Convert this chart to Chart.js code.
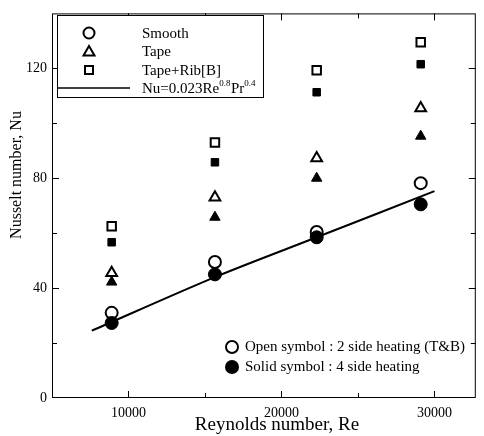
<!DOCTYPE html>
<html>
<head>
<meta charset="utf-8">
<script src="https://cdn.jsdelivr.net/npm/chart.js@4.4.1/dist/chart.umd.min.js"></script>
<style>
  body { margin: 0; background: #fff; }
  canvas { display: block; }
</style>
</head>
<body>
<canvas id="nuChart" width="484" height="436"></canvas>
<script>
// Reynolds numbers of the four test runs
var reValues = [8900, 15650, 22300, 29100];
// Nusselt numbers, open = 2 side heating, solid = 4 side heating
var smoothOpen = [31, 49.5, 60.4, 78.2];
var smoothSolid = [27.3, 45, 58.5, 70.5];
var tapeOpen = [45.5, 73, 87.3, 105.5];
var tapeSolid = [42.2, 65.8, 80, 95.3];
var ribOpen = [62.5, 93, 119.3, 129.5];
var ribSolid = [56.7, 85.8, 111.3, 121.5];
// Dittus-Boelter line
var lineRe = [7600, 15650, 22300, 30000];
var lineNu = [24.5, 44, 58.5, 75.3];
// tick labels
var xTickLabels = [10000, 20000, 30000];
var yTickLabels = [0, 40, 80, 120];

var SERIF = '"Liberation Serif", "DejaVu Serif", serif';

function pts(xs, ys) {
    return xs.map(function (x, i) { return { x: x, y: ys[i] }; });
}

function symbolSet(label, ys, style, solid, r, order) {
    return {
        label: label,
        data: pts(reValues, ys),
        showLine: false,
        pointStyle: style,
        pointRadius: r,
        pointHoverRadius: r,
        pointBorderWidth: solid ? 1 : 2,
        pointBorderColor: '#000',
        pointBackgroundColor: solid ? '#000' : '#fff',
        order: order
    };
}

// inward ticks, frame, titles and the two legend boxes
var decorations = {
    id: 'decorations',
    afterDatasetsDraw: function (chart) {
        var ctx = chart.ctx;
        var a = chart.chartArea;
        var xs = chart.scales.x, ys = chart.scales.y;
        ctx.save();
        ctx.strokeStyle = '#000';
        ctx.lineWidth = 1;
        ctx.strokeRect(a.left + 0.5, a.top + 0.5, a.right - a.left - 1, a.bottom - a.top - 1);

        ctx.beginPath();
        [10000, 15000, 20000, 25000, 30000].forEach(function (v) {
            var px = Math.round(xs.getPixelForValue(v)) + 0.5;
            var len = v % 10000 === 0 ? 7 : 5;
            ctx.moveTo(px, a.bottom); ctx.lineTo(px, a.bottom - len);
            ctx.moveTo(px, a.top); ctx.lineTo(px, a.top + len);
        });
        [20, 40, 60, 80, 100, 120].forEach(function (v) {
            var py = Math.round(ys.getPixelForValue(v)) + 0.5;
            var len = v % 40 === 0 ? 7 : 5;
            ctx.moveTo(a.left, py); ctx.lineTo(a.left + len, py);
            ctx.moveTo(a.right, py); ctx.lineTo(a.right - len, py);
        });
        ctx.stroke();

        // axis titles
        ctx.fillStyle = '#000';
        ctx.textAlign = 'center';
        ctx.textBaseline = 'middle';
        ctx.font = '19px ' + SERIF;
        ctx.fillText('Reynolds number, Re', 277, 425);
        ctx.save();
        ctx.translate(17, 175);
        ctx.rotate(-Math.PI / 2);
        ctx.font = '16px ' + SERIF;
        ctx.fillText('Nusselt number, Nu', 0, 0);
        ctx.restore();

        // upper-left legend
        ctx.fillStyle = '#fff';
        ctx.fillRect(57, 15, 206, 82);
        ctx.strokeRect(57.5, 15.5, 206, 82);
        ctx.lineWidth = 2;
        ctx.fillStyle = '#fff';
        ctx.beginPath(); ctx.arc(89, 33, 5.5, 0, Math.PI * 2); ctx.fill(); ctx.stroke();
        ctx.beginPath();
        ctx.moveTo(89, 46); ctx.lineTo(94.5, 55.5); ctx.lineTo(83.5, 55.5); ctx.closePath();
        ctx.fill(); ctx.stroke();
        ctx.strokeRect(85, 66, 8, 8);
        ctx.lineWidth = 1.4;
        ctx.beginPath(); ctx.moveTo(57, 88); ctx.lineTo(130, 88); ctx.stroke();

        ctx.fillStyle = '#000';
        ctx.textAlign = 'left';
        ctx.textBaseline = 'alphabetic';
        ctx.font = '15px ' + SERIF;
        ctx.fillText('Smooth', 142, 38);
        ctx.fillText('Tape', 142, 56);
        ctx.fillText('Tape+Rib[B]', 142, 75);
        var tx = 142, base = 93;
        var parts = [['Nu=0.023Re', false], ['0.8', true], ['Pr', false], ['0.4', true]];
        parts.forEach(function (p) {
            ctx.font = (p[1] ? '9px ' : '15px ') + SERIF;
            ctx.fillText(p[0], tx, p[1] ? base - 7 : base);
            tx += ctx.measureText(p[0]).width + (p[1] ? 0.5 : 0);
        });

        // lower-right note
        ctx.lineWidth = 2;
        ctx.fillStyle = '#fff';
        ctx.beginPath(); ctx.arc(232, 347, 6, 0, Math.PI * 2); ctx.fill(); ctx.stroke();
        ctx.fillStyle = '#000';
        ctx.beginPath(); ctx.arc(232, 367, 7, 0, Math.PI * 2); ctx.fill();
        ctx.font = '15px ' + SERIF;
        ctx.textBaseline = 'middle';
        ctx.fillText('Open symbol : 2 side heating (T&B)', 245, 347);
        ctx.fillText('Solid symbol : 4 side heating', 245, 367);
        ctx.restore();
    }
};

var nuChart = new Chart(document.getElementById('nuChart'), {
    type: 'scatter',
    data: {
        datasets: [
            {
                label: 'Nu=0.023Re^0.8Pr^0.4',
                data: pts(lineRe, lineNu),
                showLine: true,
                borderColor: '#000',
                borderWidth: 2,
                pointRadius: 0,
                tension: 0.3,
                order: 9
            },
            symbolSet('Smooth (solid)', smoothSolid, 'circle', true, 6.5, 0),
            symbolSet('Smooth (open)', smoothOpen, 'circle', false, 6, 1),
            symbolSet('Tape (solid)', tapeSolid, 'triangle', true, 6, 2),
            symbolSet('Tape (open)', tapeOpen, 'triangle', false, 6.2, 3),
            symbolSet('Tape+Rib[B] (solid)', ribSolid, 'rect', true, 5.3, 4),
            symbolSet('Tape+Rib[B] (open)', ribOpen, 'rect', false, 6, 5)
        ]
    },
    options: {
        responsive: false,
        devicePixelRatio: 1,
        animation: false,
        layout: { padding: { top: 13, right: 6, left: 0, bottom: 0 } },
        plugins: {
            legend: { display: false },
            tooltip: { enabled: false }
        },
        scales: {
            x: {
                type: 'linear',
                min: 5000,
                max: 32700,
                afterFit: function (s) { s.height = 38; },
                afterBuildTicks: function (s) {
                    s.ticks = xTickLabels.map(function (v) { return { value: v }; });
                },
                grid: { display: false, drawTicks: false },
                border: { display: false },
                ticks: {
                    padding: 7,
                    color: '#000',
                    font: { family: SERIF, size: 14 },
                    maxRotation: 0,
                    callback: function (v) { return String(v); }
                }
            },
            y: {
                type: 'linear',
                min: 0,
                max: 140,
                afterFit: function (s) { s.width = 52; },
                afterBuildTicks: function (s) {
                    s.ticks = yTickLabels.map(function (v) { return { value: v }; });
                },
                grid: { display: false, drawTicks: false },
                border: { display: false },
                ticks: {
                    padding: 5,
                    color: '#000',
                    font: { family: SERIF, size: 14 },
                    callback: function (v) { return String(v); }
                }
            }
        }
    },
    plugins: [decorations]
});
</script>
</body>
</html>
